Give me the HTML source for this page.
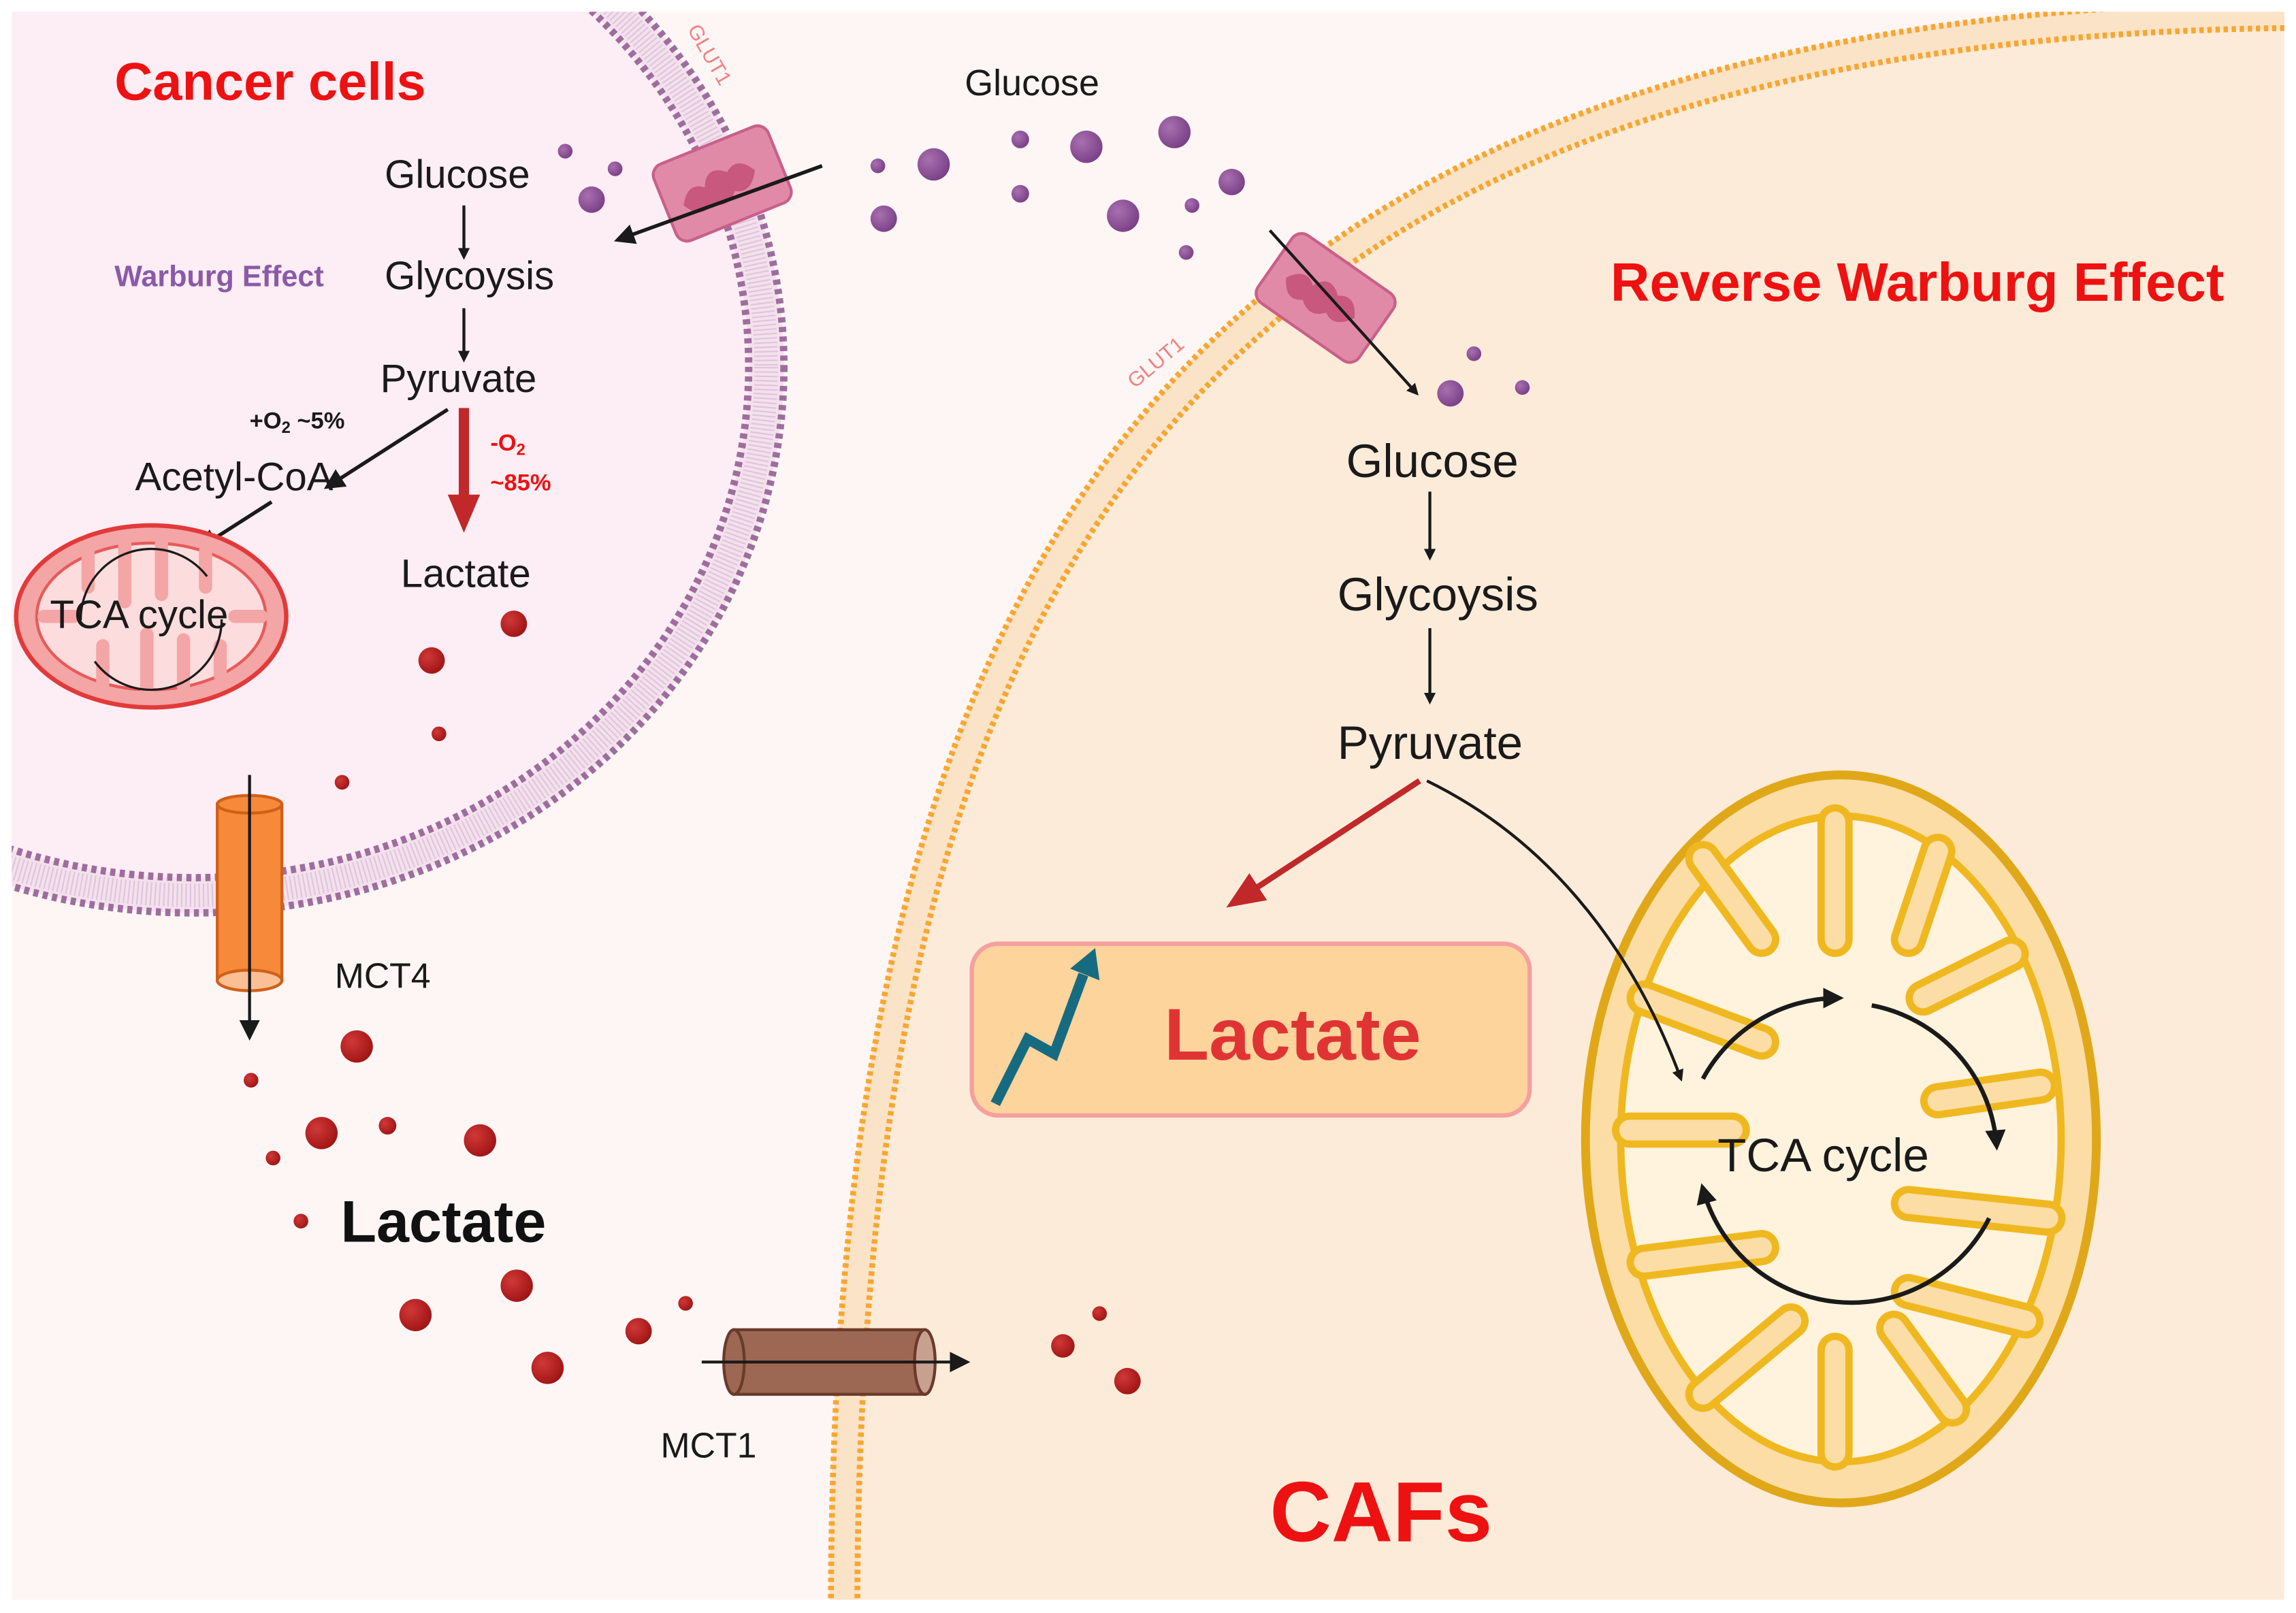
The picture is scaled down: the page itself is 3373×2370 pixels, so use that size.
<!DOCTYPE html>
<html><head><meta charset="utf-8"><style>
html,body{margin:0;padding:0;background:#fff;}
svg{display:block;}
text{font-family:"Liberation Sans",sans-serif;}
</style></head><body>
<svg width="3373" height="2370" viewBox="0 0 1564 1099" preserveAspectRatio="none" xmlns="http://www.w3.org/2000/svg">
<defs>
<marker id="ah" markerWidth="8" markerHeight="8" refX="6" refY="4" orient="auto" markerUnits="userSpaceOnUse"><path d="M0,0 L8,4 L0,8 Z" fill="#1a1a1a"/></marker>
<marker id="ahb" markerWidth="14" markerHeight="14" refX="10" refY="7" orient="auto" markerUnits="userSpaceOnUse"><path d="M0,0 L14,7 L0,14 Z" fill="#1a1a1a"/></marker>
<marker id="ahr" markerWidth="26" markerHeight="22" refX="18" refY="11" orient="auto" markerUnits="userSpaceOnUse"><path d="M0,0 L26,11 L0,22 Z" fill="#c0282a"/></marker>
<radialGradient id="pd" cx="0.35" cy="0.35" r="0.7"><stop offset="0" stop-color="#a870b0"/><stop offset="1" stop-color="#7a3f86"/></radialGradient>
<radialGradient id="rd" cx="0.35" cy="0.35" r="0.7"><stop offset="0" stop-color="#d03838"/><stop offset="1" stop-color="#a01414"/></radialGradient>
<clipPath id="pan"><rect x="8" y="8" width="1548" height="1082"/></clipPath>
</defs>
<rect x="0" y="0" width="1564" height="1099" fill="#fff"/>
<g clip-path="url(#pan)">
<rect x="8" y="8" width="1548" height="1082" fill="#fdf6f5"/>
<!-- CAF cell -->
<path d="M575,1100 C575,380 810,15 1570,10 L1570,1100 Z" fill="#fdebd9"/>
<path d="M575,1100 C575,380 810,15 1570,10" fill="none" stroke="#fbe3c8" stroke-width="20"/>
<path d="M566,1100 C566,372 805,6 1570,1" fill="none" stroke="#f6a732" stroke-width="4" stroke-dasharray="3 2.5"/>
<path d="M584,1100 C584,388 815,24 1570,19" fill="none" stroke="#f6a732" stroke-width="4" stroke-dasharray="3 2.5"/>
<!-- Cancer cell -->
<ellipse cx="132" cy="250" rx="390" ry="360" fill="#fdedf4"/>
<ellipse cx="132" cy="250" rx="390" ry="360" fill="none" stroke="#f3e1ec" stroke-width="24"/>
<ellipse cx="132" cy="250" rx="402" ry="372" fill="none" stroke="#9e6d9e" stroke-width="5" stroke-dasharray="3.5 3"/>
<ellipse cx="132" cy="250" rx="378" ry="348" fill="none" stroke="#9e6d9e" stroke-width="5" stroke-dasharray="3.5 3"/>
<ellipse cx="132" cy="250" rx="390" ry="360" fill="none" stroke="#d4b0d4" stroke-width="16" stroke-dasharray="1 2" opacity="0.6"/>
</g>
<!-- GLUT1 cancer -->
<g transform="translate(492,125) rotate(-22)">
<rect x="-42" y="-28" width="84" height="56" rx="8" fill="#e08aa8" stroke="#c86088" stroke-width="2"/>
<path d="M-30,4 q8,-14 18,-6 q6,-14 18,-4 q10,-8 18,6 q-8,14 -18,8 q-8,10 -18,2 q-10,8 -18,-6z" fill="#c8587e"/>
</g>
<text x="0" y="0" font-size="14" fill="#f08080" transform="translate(468,20) rotate(60)">GLUT1</text>
<!-- GLUT1 CAF -->
<g transform="translate(903,203) rotate(35)">
<rect x="-42" y="-28" width="84" height="56" rx="8" fill="#e08aa8" stroke="#c86088" stroke-width="2"/>
<path d="M-30,4 q8,-14 18,-6 q6,-14 18,-4 q10,-8 18,6 q-8,14 -18,8 q-8,10 -18,2 q-10,8 -18,-6z" fill="#c8587e"/>
</g>
<text x="0" y="0" font-size="14" fill="#f08080" transform="translate(773,265) rotate(-40)">GLUT1</text>
<!-- glucose dots -->
<g fill="url(#pd)">
<circle cx="385" cy="103" r="5"/><circle cx="419" cy="115" r="5"/><circle cx="403" cy="136" r="9"/>
<circle cx="598" cy="113" r="5"/><circle cx="636" cy="112" r="11"/><circle cx="602" cy="149" r="9"/>
<circle cx="695" cy="95" r="6"/><circle cx="740" cy="100" r="11"/><circle cx="800" cy="90" r="11"/>
<circle cx="695" cy="132" r="6"/><circle cx="765" cy="147" r="11"/><circle cx="812" cy="140" r="5"/>
<circle cx="839" cy="124" r="9"/><circle cx="808" cy="172" r="5"/>
<circle cx="988" cy="268" r="9"/><circle cx="1004" cy="241" r="5"/><circle cx="1037" cy="264" r="5"/>
</g>
<line x1="560" y1="113" x2="422" y2="163" stroke="#1a1a1a" stroke-width="2.5" marker-end="url(#ahb)"/>
<line x1="865" y1="157" x2="965" y2="268" stroke="#1a1a1a" stroke-width="2" marker-end="url(#ah)"/>
<!-- cancer labels -->
<text x="78" y="68" font-size="36" font-weight="bold" fill="#ee1111">Cancer cells</text>
<text x="703" y="65" font-size="25" fill="#1a1a1a" text-anchor="middle">Glucose</text>
<text x="262" y="128" font-size="27" fill="#1a1a1a">Glucose</text>
<text x="262" y="197" font-size="27" fill="#1a1a1a">Glycoysis</text>
<text x="259" y="267" font-size="27" fill="#1a1a1a">Pyruvate</text>
<text x="78" y="195" font-size="20" font-weight="bold" fill="#8a5aa8">Warburg Effect</text>
<text x="170" y="292" font-size="16" font-weight="bold" fill="#1a1a1a">+O<tspan font-size="11" dy="3">2</tspan><tspan dy="-3"> ~5%</tspan></text>
<text x="92" y="334" font-size="27" fill="#1a1a1a">Acetyl-CoA</text>
<text x="334" y="307" font-size="16" font-weight="bold" fill="#ee1111">-O<tspan font-size="11" dy="3">2</tspan></text>
<text x="334" y="334" font-size="16" font-weight="bold" fill="#ee1111">~85%</text>
<text x="273" y="400" font-size="27" fill="#1a1a1a">Lactate</text>
<line x1="316" y1="140" x2="316" y2="175" stroke="#1a1a1a" stroke-width="2" marker-end="url(#ah)"/>
<line x1="316" y1="210" x2="316" y2="245" stroke="#1a1a1a" stroke-width="2" marker-end="url(#ah)"/>
<line x1="316" y1="278" x2="316" y2="355" stroke="#c0282a" stroke-width="7" marker-end="url(#ahr)"/>
<line x1="305" y1="279" x2="224" y2="331" stroke="#1a1a1a" stroke-width="2.5" marker-end="url(#ahb)"/>
<line x1="185" y1="342" x2="138" y2="372" stroke="#1a1a1a" stroke-width="2.5" marker-end="url(#ahb)"/>
<!-- small mito -->
<ellipse cx="103" cy="420" rx="92" ry="62" fill="#f4a5a5" stroke="#e23a3a" stroke-width="3"/>
<ellipse cx="103" cy="420" rx="78" ry="50" fill="#fcdcdc" stroke="#e85a5a" stroke-width="2"/>
<g stroke="#f4a5a5" stroke-width="9" stroke-linecap="round">
<line x1="60" y1="374" x2="60" y2="400"/><line x1="85" y1="370" x2="85" y2="410"/><line x1="110" y1="370" x2="110" y2="405"/><line x1="140" y1="376" x2="140" y2="400"/>
<line x1="70" y1="466" x2="70" y2="440"/><line x1="100" y1="470" x2="100" y2="432"/><line x1="125" y1="468" x2="125" y2="436"/><line x1="150" y1="460" x2="150" y2="440"/>
<line x1="30" y1="420" x2="50" y2="420"/><line x1="178" y1="420" x2="160" y2="420"/>
</g>
<circle cx="103" cy="422" r="48" fill="none" stroke="#1a1a1a" stroke-width="1.5" stroke-dasharray="120 30 120 32"/>
<text x="34" y="428" font-size="27" fill="#1a1a1a">TCA cycle</text>
<!-- lactate dots -->
<g fill="url(#rd)">
<circle cx="350" cy="425" r="9"/><circle cx="294" cy="450" r="9"/><circle cx="299" cy="500" r="5"/><circle cx="233" cy="533" r="5"/>
<circle cx="243" cy="713" r="11"/><circle cx="171" cy="736" r="5"/><circle cx="219" cy="772" r="11"/><circle cx="264" cy="767" r="6"/>
<circle cx="327" cy="777" r="11"/><circle cx="186" cy="789" r="5"/><circle cx="205" cy="832" r="5"/><circle cx="283" cy="896" r="11"/>
<circle cx="352" cy="876" r="11"/><circle cx="373" cy="932" r="11"/><circle cx="435" cy="907" r="9"/><circle cx="467" cy="888" r="5"/>
<circle cx="724" cy="917" r="8"/><circle cx="768" cy="941" r="9"/><circle cx="749" cy="895" r="5"/>
</g>
<!-- MCT4 -->
<rect x="148" y="548" width="44" height="120" fill="#f78a3a" stroke="#d06018" stroke-width="2"/>
<ellipse cx="170" cy="548" rx="22" ry="6" fill="#f78a3a" stroke="#d06018" stroke-width="2"/>
<ellipse cx="170" cy="668" rx="22" ry="7" fill="#fbbf95" stroke="#d06018" stroke-width="2"/>
<line x1="170" y1="528" x2="170" y2="705" stroke="#1a1a1a" stroke-width="2" marker-end="url(#ahb)"/>
<text x="228" y="673" font-size="24" fill="#1a1a1a">MCT4</text>
<text x="232" y="846" font-size="40" font-weight="bold" fill="#111">Lactate</text>
<!-- MCT1 -->
<rect x="500" y="906" width="130" height="44" fill="#9c6854" stroke="#6a3a2a" stroke-width="2"/>
<ellipse cx="500" cy="928" rx="7" ry="22" fill="#9c6854" stroke="#6a3a2a" stroke-width="2"/>
<ellipse cx="630" cy="928" rx="7" ry="22" fill="#c8a090" stroke="#6a3a2a" stroke-width="2"/>
<line x1="478" y1="928" x2="657" y2="928" stroke="#1a1a1a" stroke-width="2" marker-end="url(#ahb)"/>
<text x="450" y="993" font-size="24" fill="#1a1a1a">MCT1</text>
<!-- CAF labels -->
<text x="1097" y="205" font-size="37" font-weight="bold" fill="#ee1111">Reverse Warburg Effect</text>
<text x="917" y="325" font-size="32" fill="#1a1a1a">Glucose</text>
<text x="911" y="416" font-size="32" fill="#1a1a1a">Glycoysis</text>
<text x="911" y="517" font-size="32" fill="#1a1a1a">Pyruvate</text>
<line x1="974" y1="335" x2="974" y2="380" stroke="#1a1a1a" stroke-width="2" marker-end="url(#ah)"/>
<line x1="974" y1="428" x2="974" y2="478" stroke="#1a1a1a" stroke-width="2" marker-end="url(#ah)"/>
<line x1="967" y1="532" x2="842" y2="614" stroke="#c0282a" stroke-width="4" marker-end="url(#ahr)"/>
<!-- Lactate box -->
<rect x="662" y="643" width="380" height="117" rx="18" fill="#fdd49c" stroke="#f4a0a0" stroke-width="3"/>
<polyline points="678,752 700,708 718,718 738,664" fill="none" stroke="#176b80" stroke-width="7"/>
<path d="M729,660 L746,646 L749,668 Z" fill="#176b80"/>
<text x="793" y="722" font-size="50" font-weight="bold" fill="#e03434">Lactate</text>
<!-- big mito -->
<ellipse cx="1254" cy="776" rx="174" ry="248" fill="#fcdda6" stroke="#e0a818" stroke-width="6"/>
<ellipse cx="1254" cy="776" rx="150" ry="220" fill="#fff3dd" stroke="#f0b820" stroke-width="5"/>
<g stroke="#f0b820" stroke-width="24" stroke-linecap="round" fill="none">
<path d="M1160,585 L1200,640"/><path d="M1250,560 L1250,640"/><path d="M1320,580 L1300,640"/><path d="M1370,650 L1310,680"/>
<path d="M1120,680 L1200,710"/><path d="M1390,740 L1320,750"/><path d="M1110,770 L1180,770"/><path d="M1395,830 L1300,820"/>
<path d="M1120,860 L1200,850"/><path d="M1380,900 L1300,880"/><path d="M1160,950 L1220,900"/><path d="M1250,990 L1250,920"/><path d="M1330,960 L1290,905"/>
</g>
<g stroke="#fcdda6" stroke-width="14" stroke-linecap="round" fill="none">
<path d="M1160,585 L1200,640"/><path d="M1250,560 L1250,640"/><path d="M1320,580 L1300,640"/><path d="M1370,650 L1310,680"/>
<path d="M1120,680 L1200,710"/><path d="M1390,740 L1320,750"/><path d="M1110,770 L1180,770"/><path d="M1395,830 L1300,820"/>
<path d="M1120,860 L1200,850"/><path d="M1380,900 L1300,880"/><path d="M1160,950 L1220,900"/><path d="M1250,990 L1250,920"/><path d="M1330,960 L1290,905"/>
</g>
<path d="M1160,735 A105,105 0 0 1 1252,680" fill="none" stroke="#1a1a1a" stroke-width="3" marker-end="url(#ahb)"/>
<path d="M1275,685 A105,105 0 0 1 1360,780" fill="none" stroke="#1a1a1a" stroke-width="3" marker-end="url(#ahb)"/>
<path d="M1355,830 A105,105 0 0 1 1160,810" fill="none" stroke="#1a1a1a" stroke-width="3" marker-end="url(#ahb)"/>
<path d="M972,532 C1050,570 1110,640 1145,735" fill="none" stroke="#1a1a1a" stroke-width="2" marker-end="url(#ah)"/>
<text x="1170" y="798" font-size="32" fill="#1a1a1a">TCA cycle</text>
<text x="865" y="1050" font-size="58" font-weight="bold" fill="#ee1111">CAFs</text>
</svg>
</body></html>
